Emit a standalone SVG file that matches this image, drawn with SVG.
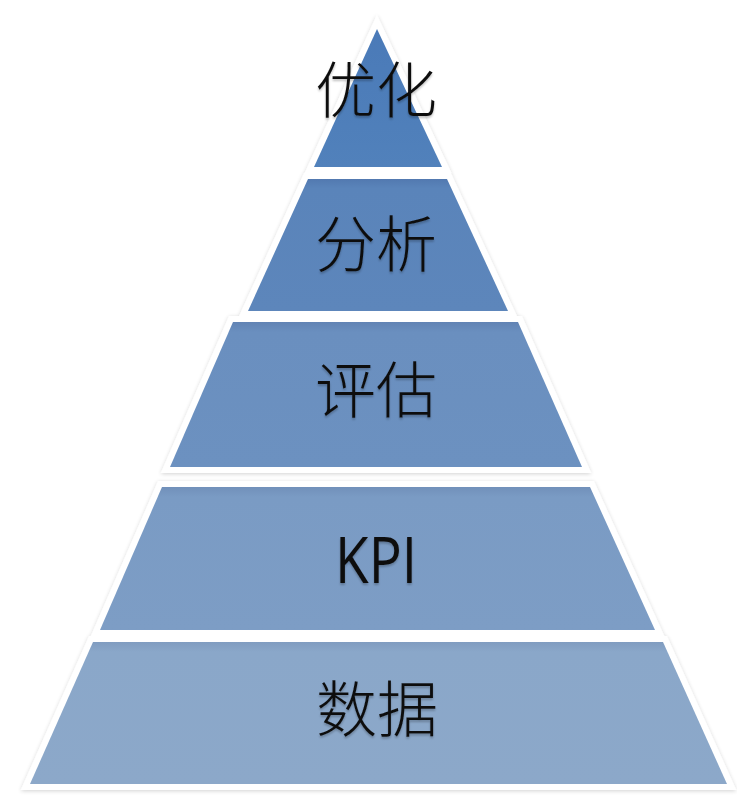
<svg xmlns="http://www.w3.org/2000/svg" width="737" height="795" viewBox="0 0 737 795">
<defs>
<filter id="sh" x="-10%" y="-10%" width="120%" height="120%">
<feGaussianBlur in="SourceAlpha" stdDeviation="2"/>
<feOffset dx="0" dy="1"/>
<feComponentTransfer><feFuncA type="linear" slope="0.18"/></feComponentTransfer>
<feMerge><feMergeNode/><feMergeNode in="SourceGraphic"/></feMerge>
</filter>
<filter id="ts" x="-10%" y="-10%" width="120%" height="130%">
<feGaussianBlur in="SourceAlpha" stdDeviation="1.2"/>
<feOffset dx="0" dy="2"/>
<feComponentTransfer><feFuncA type="linear" slope="0.25"/></feComponentTransfer>
<feMerge><feMergeNode/><feMergeNode in="SourceGraphic"/></feMerge>
</filter>
<linearGradient id="g1" x1="0" y1="0" x2="0" y2="1"><stop offset="0" stop-color="#4a7ab8"/><stop offset="1" stop-color="#5181bb"/></linearGradient>
<linearGradient id="g2" x1="0" y1="0" x2="0" y2="1"><stop offset="0" stop-color="#5279b0"/><stop offset="0.07" stop-color="#5a84ba"/><stop offset="1" stop-color="#5d86bb"/></linearGradient>
<linearGradient id="g3" x1="0" y1="0" x2="0" y2="1"><stop offset="0" stop-color="#6183b4"/><stop offset="0.07" stop-color="#6a8fbf"/><stop offset="1" stop-color="#6c91c0"/></linearGradient>
<linearGradient id="g4" x1="0" y1="0" x2="0" y2="1"><stop offset="0" stop-color="#7190ba"/><stop offset="0.07" stop-color="#7a9bc4"/><stop offset="1" stop-color="#7d9dc5"/></linearGradient>
<linearGradient id="g5" x1="0" y1="0" x2="0" y2="1"><stop offset="0" stop-color="#809cc0"/><stop offset="0.07" stop-color="#8aa7c9"/><stop offset="1" stop-color="#8ca8c9"/></linearGradient>
</defs>
<style>
.edge{fill:#ffffff;stroke:#ffffff;stroke-width:12;stroke-linejoin:miter;stroke-miterlimit:10}
.cjk{font-family:"Noto Sans CJK SC","Noto Sans CJK JP",sans-serif;font-size:61px;fill:#111111;text-anchor:middle;font-weight:300}
.lat{font-family:"Open Sans","Liberation Sans",sans-serif;font-size:64px;fill:#111111;text-anchor:middle}
</style>
<rect width="737" height="795" fill="#ffffff"/>
<g id="outline" filter="url(#sh)">
<polygon class="edge" points="377,29 442,167 314,167"/>
<polygon class="edge" points="308,179 447,179 508,311 248,311"/>
<polygon class="edge" points="233,322 518,322 582,467 170,467"/>
<polygon class="edge" points="162,487 590,487 655,630 100,630"/>
<polygon class="edge" points="93,642 663,642 727,784 30,784"/>
</g>
<g id="layer-1">
<polygon points="377,29 442,167 314,167" fill="url(#g1)"/>
<text class="cjk" x="376" y="113" filter="url(#ts)">优化</text>
</g>
<g id="layer-2">
<polygon points="308,179 447,179 508,311 248,311" fill="url(#g2)"/>
<text class="cjk" x="376" y="267" filter="url(#ts)">分析</text>
</g>
<g id="layer-3">
<polygon points="233,322 518,322 582,467 170,467" fill="url(#g3)"/>
<text class="cjk" x="376" y="413" filter="url(#ts)">评估</text>
</g>
<g id="layer-4">
<polygon points="162,487 590,487 655,630 100,630" fill="url(#g4)"/>
<text class="lat" x="376" y="583" textLength="82" lengthAdjust="spacingAndGlyphs" filter="url(#ts)">KPI</text>
</g>
<g id="layer-5">
<polygon points="93,642 663,642 727,784 30,784" fill="url(#g5)"/>
<text class="cjk" x="377" y="732" filter="url(#ts)">数据</text>
</g>
<g id="connectors"/>
</svg>
